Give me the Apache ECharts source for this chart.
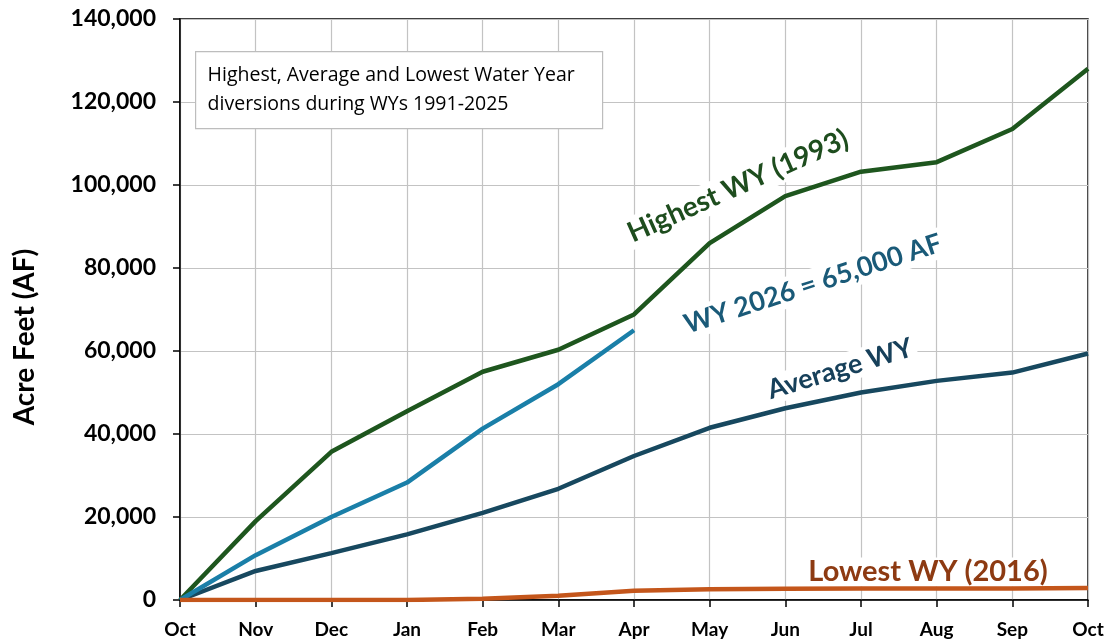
<!DOCTYPE html>
<html>
<head>
<meta charset="utf-8">
<script src="https://cdn.jsdelivr.net/npm/echarts@6/dist/echarts.min.js"></script>
<style>
  html, body { margin: 0; padding: 0; background: #fff; }
  #chart { width: 1110px; height: 642px; }
</style>
</head>
<body>
<div id="chart"></div>
<script>
const months = ["Oct", "Nov", "Dec", "Jan", "Feb", "Mar", "Apr", "May", "Jun", "Jul", "Aug", "Sep", "Oct"];
const highest = [0, 19000, 35700, 45500, 55000, 60300, 68800, 86000, 97300, 103200, 105500, 113500, 128000];
const average = [0, 7000, 11300, 15800, 21000, 26800, 34700, 41500, 46200, 50000, 52800, 54800, 59400];
const wy2026 = [0, 10800, 20000, 28300, 41300, 52000, 65000];
const lowest = [0, 0, 0, 0, 300, 1000, 2200, 2600, 2700, 2800, 2800, 2800, 2900];

const font = "Lato, 'Open Sans', sans-serif";
const chart = echarts.init(document.getElementById("chart"));

function line(name, data, color) {
  return {
    name: name,
    type: "line",
    data: data,
    showSymbol: false,
    symbol: "none",
    z: 5,
    lineStyle: { color: color, width: 4.5 },
    itemStyle: { color: color },
    animation: false
  };
}

chart.setOption({
  animation: false,
  grid: {
    left: 180, right: 22, top: 19, bottom: 42,
    show: true, borderColor: "#000", borderWidth: 1.5
  },
  xAxis: {
    type: "category",
    data: months,
    boundaryGap: false,
    axisLine: { lineStyle: { color: "#000", width: 1.5 } },
    axisTick: { show: true, length: 7, alignWithLabel: true, lineStyle: { color: "#000", width: 1.5 } },
    axisLabel: { color: "#000", fontFamily: font, fontWeight: "bold", fontSize: 19, margin: 20, interval: 0 },
    splitLine: { show: true, lineStyle: { color: "#c3c3c3", width: 1.2 } }
  },
  yAxis: {
    type: "value",
    min: 0, max: 140000, interval: 20000,
    axisLine: { show: true, lineStyle: { color: "#000", width: 1.5 } },
    axisTick: { show: true, length: 7, lineStyle: { color: "#000", width: 1.5 } },
    axisLabel: {
      color: "#000", fontFamily: font, fontWeight: "bold", fontSize: 23, margin: 24,
      formatter: v => v.toLocaleString("en-US")
    },
    splitLine: { show: true, lineStyle: { color: "#c3c3c3", width: 1.2 } }
  },
  series: [
    line("Average WY", average, "#17485f"),
    line("Highest WY (1993)", highest, "#1e561e"),
    line("WY 2026", wy2026, "#1a7fa8"),
    line("Lowest WY (2016)", lowest, "#c4561b")
  ],
  graphic: [
    // y axis title
    { type: "text", x: 25, y: 337, rotation: Math.PI / 2,
      style: { text: "Acre Feet (AF)", fill: "#000", font: "bold 28px " + font,
               align: "center", verticalAlign: "middle" } },
    {
      type: "group", left: 195, top: 51, z: 100,
      children: [
        { type: "rect", z: 100, shape: { x: 0, y: 0, width: 407, height: 77 },
          style: { fill: "#fff", stroke: "#bdbdbd", lineWidth: 1.2 } },
        { type: "text", z: 101, x: 12, y: 9,
          style: { text: "Highest, Average and Lowest Water Year\ndiversions during WYs 1991-2025",
                   fill: "#000", font: "19.5px 'Open Sans', sans-serif", lineHeight: 29 } }
      ]
    },
    // line labels: above gridlines, below the series
    { type: "text", x: 738, y: 186, rotation: 24 * Math.PI / 180, z: 3,
      style: { text: "Highest WY (1993)", fill: "#1e4d1e", font: "bold 28px " + font,
               align: "center", verticalAlign: "middle", backgroundColor: "#fff", padding: [2, 4] } },
    { type: "text", x: 813, y: 284, rotation: 18 * Math.PI / 180, z: 3,
      style: { text: "WY 2026 = 65,000 AF", fill: "#1a5a78", font: "bold 27px " + font,
               align: "center", verticalAlign: "middle", backgroundColor: "#fff", padding: [2, 4] } },
    { type: "text", x: 840, y: 369, rotation: 17 * Math.PI / 180, z: 3,
      style: { text: "Average WY", fill: "#17405a", font: "bold 27px " + font,
               align: "center", verticalAlign: "middle", backgroundColor: "#fff", padding: [1, 4] } },
    { type: "text", x: 928, y: 572, z: 3,
      style: { text: "Lowest WY (2016)", fill: "#8d3a12", font: "bold 29px " + font,
               align: "center", verticalAlign: "middle", backgroundColor: "#fff", padding: [0, 4] } }
  ]
});
</script>
</body>
</html>
